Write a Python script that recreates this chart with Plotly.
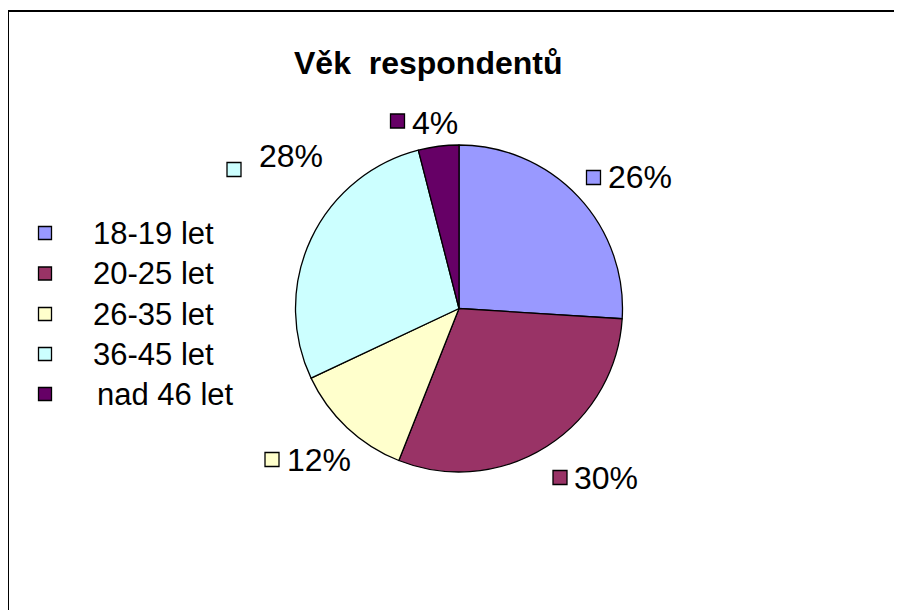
import plotly.graph_objects as go

W, H = 902, 610
OFF = 8  # page body margin offset

title = "Věk\u00a0 respondentů"
categories = ["18-19 let", "20-25 let", "26-35 let", "36-45 let", "nad 46 let"]
values = [26, 30, 12, 28, 4]
colors = ["#9999FF", "#993366", "#FFFFCC", "#CCFFFF", "#660066"]

# label placement (page pixels): square centre, text left x, text centre y
label_sq = [(593.5, 177.5), (560, 477.5), (272, 459.5), (234, 169.5), (397.5, 121)]
label_txt = [(609, 176.5), (575, 477.5), (288, 460), (260, 156.5), (413, 122.5)]
# legend placement
legend_sq_x = 45
legend_txt_x = [94, 94, 94, 94, 98]
legend_y = [233, 273.5, 314, 354, 394]

FONT = "Arial, 'Liberation Sans', sans-serif"


def px(x):
    return (x - OFF) / W


def py(y):
    return 1 - (y - OFF) / H


cx, cy, r = 459, 308.5, 163.5

fig = go.Figure(go.Pie(
    labels=categories,
    values=values,
    sort=False,
    direction="clockwise",
    rotation=0,
    marker=dict(colors=colors, line=dict(color="black", width=1.3)),
    textinfo="none",
    hoverinfo="label+percent",
    showlegend=False,
    domain=dict(x=[px(cx - r), px(cx + r)], y=[py(cy + r), py(cy - r)]),
))

shapes = []
annotations = []

# outer chart border (top and left edges visible)
shapes.append(dict(type="line", xref="paper", yref="paper",
                   x0=px(8), x1=px(W + 20), y0=py(11), y1=py(11),
                   line=dict(color="black", width=2)))
shapes.append(dict(type="line", xref="paper", yref="paper",
                   x0=px(8), x1=px(8), y0=py(11), y1=py(H + 20),
                   line=dict(color="black", width=2)))

total = sum(values)
s = 7
for i, (cat, v, c) in enumerate(zip(categories, values, colors)):
    sx, sy = label_sq[i]
    shapes.append(dict(type="rect", xref="paper", yref="paper",
                       x0=px(sx - s), x1=px(sx + s), y0=py(sy + s), y1=py(sy - s),
                       fillcolor=c, line=dict(color="black", width=1.3)))
    tx, ty = label_txt[i]
    annotations.append(dict(xref="paper", yref="paper", x=px(tx - 3), y=py(ty),
                            xanchor="left", yanchor="middle", showarrow=False,
                            text=f"{round(100 * v / total)}%",
                            font=dict(family=FONT, size=32, color="black")))
    # legend
    ly = legend_y[i]
    shapes.append(dict(type="rect", xref="paper", yref="paper",
                       x0=px(legend_sq_x - 6.5), x1=px(legend_sq_x + 6.5),
                       y0=py(ly + 6.5), y1=py(ly - 6.5),
                       fillcolor=c, line=dict(color="black", width=1.3)))
    annotations.append(dict(xref="paper", yref="paper", x=px(legend_txt_x[i] - 3), y=py(ly),
                            xanchor="left", yanchor="middle", showarrow=False,
                            text=cat,
                            font=dict(family=FONT, size=31, color="black")))

annotations.append(dict(xref="paper", yref="paper", x=px(428.5), y=py(63),
                        xanchor="center", yanchor="middle", showarrow=False,
                        text=f"<b>{title}</b>",
                        font=dict(family=FONT, size=32, color="black")))

fig.update_layout(
    width=W, height=H,
    margin=dict(l=0, r=0, t=0, b=0),
    paper_bgcolor="white",
    plot_bgcolor="white",
    shapes=shapes,
    annotations=annotations,
    showlegend=False,
)

fig.write_html("out.html")
